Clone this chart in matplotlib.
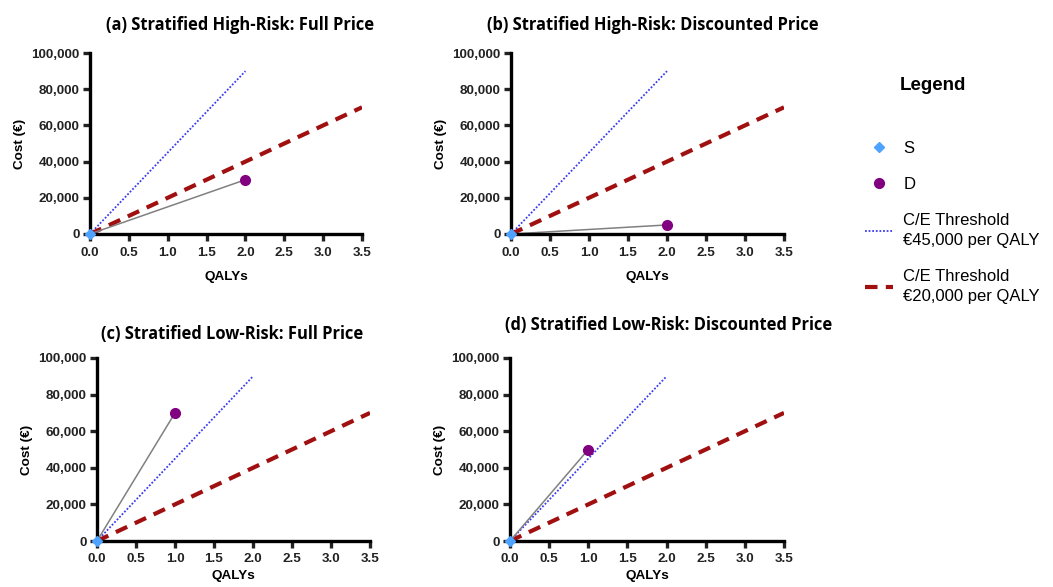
import matplotlib.pyplot as plt
from matplotlib.lines import Line2D
from matplotlib.ticker import FuncFormatter

plt.rcParams["font.family"] = ["Liberation Sans", "DejaVu Sans"]

# Data
titles = [
    "(a) Stratified High-Risk: Full Price",
    "(b) Stratified High-Risk: Discounted Price",
    "(c) Stratified Low-Risk: Full Price",
    "(d) Stratified Low-Risk: Discounted Price",
]
s_qaly = [0, 0, 0, 0]
s_cost = [0, 0, 0, 0]
d_qaly = [2.0, 2.0, 1.0, 1.0]
d_cost = [30000, 5000, 70000, 50000]

thr45_x = [0, 2.0]
thr45_y = [0, 90000]
thr20_x = [0, 3.5]
thr20_y = [0, 70000]

x_ticks = [0, 0.5, 1.0, 1.5, 2.0, 2.5, 3.0, 3.5]
y_ticks = [0, 20000, 40000, 60000, 80000, 100000]

# Layout (pixels)
W, H = 1053, 587
boxes = [
    (90, 53, 272, 181),
    (511, 53, 273, 181),
    (97, 358, 273, 183),
    (510, 358, 274, 183),
]
title_pos = [(240, 25), (653, 25), (232, 334), (669, 325)]
xlabel_pad = [9, 9, 3.5, 3.5]

fig = plt.figure(figsize=(W / 100, H / 100), dpi=100)

for i, (px, py, pw, ph) in enumerate(boxes):
    ax = fig.add_axes([px / W, 1 - (py + ph) / H, pw / W, ph / H])
    ax.plot(thr45_x, thr45_y, color="#3b3bf0", linestyle=(0, (1, 1)), linewidth=1.3)
    ax.plot(thr20_x, thr20_y, color="#a01010", linestyle=(0, (3, 2)), linewidth=3)
    ax.plot([s_qaly[i], d_qaly[i]], [s_cost[i], d_cost[i]], color="#808080", linewidth=1.1)
    ax.plot(d_qaly[i], d_cost[i], "o", color="#800080", markersize=7, clip_on=False, zorder=5)
    ax.plot(s_qaly[i], s_cost[i], "D", color="#4da3ff", markersize=5.5, clip_on=False, zorder=6)

    ax.set_xlim(0, 3.5)
    ax.set_ylim(0, 100000)
    ax.set_xticks(x_ticks)
    ax.set_yticks(y_ticks)
    ax.xaxis.set_major_formatter(FuncFormatter(lambda v, p: f"{v:.1f}"))
    ax.yaxis.set_major_formatter(FuncFormatter(lambda v, p: f"{int(v):,}"))
    for sp in ["top", "right"]:
        ax.spines[sp].set_visible(False)
    for sp in ["left", "bottom"]:
        ax.spines[sp].set_linewidth(2.4)
    ax.tick_params(width=2.4, length=5, labelsize=9.7, colors="#222222")
    ax.tick_params(axis="x", pad=4)
    ax.tick_params(axis="y", pad=2.5)
    for lab in ax.get_xticklabels() + ax.get_yticklabels():
        lab.set_fontweight("bold")
    ax.set_xlabel("QALYs", fontsize=9.7, fontweight="bold", labelpad=xlabel_pad[i])
    ax.set_ylabel("Cost (€)", fontsize=9.7, fontweight="bold", labelpad=4)

    tx, ty = title_pos[i]
    fig.text(tx / W, 1 - ty / H, titles[i], ha="center", va="center",
             fontsize=11.9, fontweight="bold", family=["Open Sans", "DejaVu Sans"])

# Legend
fig.text(933 / W, 1 - 86 / H, "Legend", ha="center", va="center", fontsize=13.5, fontweight="bold")
handles = [
    Line2D([], [], marker="D", color="#4da3ff", linestyle="none", markersize=5.5),
    Line2D([], [], marker="o", color="#800080", linestyle="none", markersize=7),
    Line2D([], [], color="#3b3bf0", linestyle=(0, (1, 1)), linewidth=1.3),
    Line2D([], [], color="#a01010", linestyle=(0, (3, 2)), linewidth=3),
]
labels = ["S", "D", "C/E Threshold\n€45,000 per QALY", "C/E Threshold\n€20,000 per QALY"]
leg = fig.legend(handles, labels, loc="upper left", bbox_to_anchor=(850 / W, 1 - 126 / H),
                 frameon=False, fontsize=12, labelspacing=1.25, handlelength=1.7,
                 handletextpad=0.6)
for t in leg.get_texts():
    t.set_linespacing(1.45)

fig.savefig("out.png", dpi=100)
